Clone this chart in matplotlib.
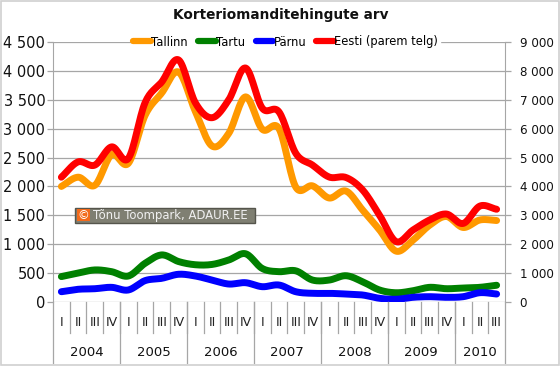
import numpy as np
import matplotlib
matplotlib.use("Agg")
import matplotlib.pyplot as plt
from matplotlib.patches import Rectangle
from matplotlib.ticker import FuncFormatter, MultipleLocator
import matplotlib.transforms as mtransforms

plt.rcParams['font.family'] = ['DejaVu Sans']

# ---- data ----
title = "Korteriomanditehingute arv"
years = ['2004', '2005', '2006', '2007', '2008', '2009', '2010']
quarters_per_year = [4, 4, 4, 4, 4, 4, 3]
quarter_names = ['I', 'II', 'III', 'IV']

tallinn = [2000, 2160, 2020, 2550, 2400, 3230, 3620, 3980, 3300, 2700, 2920, 3550,
           2990, 3000, 1990, 2010, 1800, 1920, 1590, 1250, 880, 1070, 1330, 1480,
           1290, 1420, 1410]
tartu = [440, 500, 555, 525, 450, 670, 815, 700, 645, 650, 727, 835,
         580, 525, 540, 380, 380, 455, 350, 208, 160, 195, 254, 230,
         242, 254, 290]
parnu = [178, 220, 230, 254, 208, 370, 410, 480, 450, 380, 311, 334,
         265, 294, 178, 150, 150, 138, 121, 64, 47, 81, 92, 81,
         92, 161, 138]
eesti = [4320, 4850, 4740, 5370, 4970, 6900, 7620, 8380, 6900, 6380, 7000, 8100,
         6710, 6580, 5150, 4740, 4325, 4310, 3875, 3010, 2090, 2490, 2840, 3045,
         2720, 3320, 3210]

series_names = ['Tallinn', 'Tartu', 'Pärnu', 'Eesti (parem telg)']
colors = ['#FF9900', '#008000', '#0000FF', '#FF0000']


def smooth(x, y, n=16):
    x = np.asarray(x, float)
    y = np.asarray(y, float)
    px = np.concatenate([[2 * x[0] - x[1]], x, [2 * x[-1] - x[-2]]])
    py = np.concatenate([[2 * y[0] - y[1]], y, [2 * y[-1] - y[-2]]])
    xs, ys = [], []
    t = np.linspace(0, 1, n, endpoint=False)
    for i in range(1, len(px) - 2):
        for P, out in ((px, xs), (py, ys)):
            p0, p1, p2, p3 = P[i - 1], P[i], P[i + 1], P[i + 2]
            out.extend(0.5 * ((2 * p1) + (-p0 + p2) * t +
                              (2 * p0 - 5 * p1 + 4 * p2 - p3) * t ** 2 +
                              (-p0 + 3 * p1 - 3 * p2 + p3) * t ** 3))
    xs.append(x[-1]); ys.append(y[-1])
    return np.array(xs), np.array(ys)


n = len(tallinn)
xpos = np.arange(n) + 0.5

W, H = 560, 366
fig = plt.figure(figsize=(5.6, 3.66), dpi=100)
fig.patch.set_facecolor('white')
fig.add_artist(Rectangle((0.001, 0.002), 0.998, 0.996, transform=fig.transFigure,
                         fill=False, edgecolor='#D0D0D0', lw=1.2))

ax = fig.add_axes([53 / W, 1 - 302 / H, 452 / W, 260 / H])
ax2 = ax.twinx()

grid_c = '#A6A6A6'
ax.set_xlim(0, n)
ax.set_ylim(0, 4500)
ax2.set_ylim(0, 9000)
ax.yaxis.set_major_locator(MultipleLocator(500))
ax2.yaxis.set_major_locator(MultipleLocator(1000))
fmt = FuncFormatter(lambda v, p: f"{int(v):,}".replace(',', ' '))
ax.yaxis.set_major_formatter(fmt)
ax2.yaxis.set_major_formatter(fmt)
ax.grid(axis='y', color=grid_c, lw=0.9)
ax.set_axisbelow(True)
ax.set_xticks([])
ax2.set_xticks([])

for a in (ax, ax2):
    for s in ('top', 'bottom'):
        a.spines[s].set_visible(False)
    a.spines['left'].set_color(grid_c)
    a.spines['right'].set_color(grid_c)
    a.patch.set_visible(False)
ax.spines['right'].set_visible(False)
ax2.spines['left'].set_visible(False)
ax.tick_params(axis='y', length=4, width=0.9, color=grid_c, pad=1.5,
               labelsize=10.5, labelcolor='#111111')
ax2.tick_params(axis='y', length=4, width=0.9, color=grid_c, pad=6.5,
                labelsize=8.6, labelcolor='#111111')

lines = []
for vals, c, name in zip([tallinn, tartu, parnu], colors[:3], series_names[:3]):
    sx, sy = smooth(xpos, vals)
    l, = ax.plot(sx, sy, color=c, lw=5, solid_capstyle='round',
                 solid_joinstyle='round', label=name)
    lines.append(l)
sx, sy = smooth(xpos, eesti)
l, = ax2.plot(sx, sy, color=colors[3], lw=5, solid_capstyle='round',
              solid_joinstyle='round', label=series_names[3])
lines.append(l)

# category axis
trans = mtransforms.blended_transform_factory(ax.transData, ax.transAxes)
qlabels = []
for q in quarters_per_year:
    qlabels.extend(quarter_names[:q])
for i, ql in enumerate(qlabels):
    ax.text(i + 0.5, -0.077, ql, transform=trans, ha='center', va='center',
            fontsize=9, color='#222222')
for xb in range(1, n):
    ax.plot([xb, xb], [0, -0.119], transform=trans, color=grid_c, lw=0.9,
            clip_on=False)
start = 0
for yname, q in zip(years, quarters_per_year):
    ax.text(start + q / 2, -0.196, yname, transform=trans, ha='center',
            va='center', fontsize=9.5, color='#111111')
    start += q
    ax.plot([start, start], [0, -0.235], transform=trans, color=grid_c,
            lw=0.9, clip_on=False)
ax.plot([0, 0], [0, -0.235], transform=trans, color=grid_c, lw=0.9, clip_on=False)

# title
fig.text(281 / W, 1 - 15 / H, title, ha='center', va='center',
         fontsize=9.8, fontweight='bold', color='#111111')

# legend
leg = ax2.legend(handles=lines, loc='center', bbox_to_anchor=(0.515, 1.0),
                 ncol=4, frameon=True, fontsize=8.3, handlelength=1.5,
                 handletextpad=0.05, columnspacing=0.9, borderpad=0.15,
                 borderaxespad=0)
leg.get_frame().set_facecolor('white')
leg.get_frame().set_edgecolor('white')
leg.get_frame().set_alpha(1)
for h in leg.get_lines():
    h.set_linewidth(4.5)

# watermark
fig.add_artist(Rectangle((75 / W, 1 - 223 / H), 180 / W, 15 / H,
                         transform=fig.transFigure, facecolor='#7F7F72',
                         edgecolor='#55554C', lw=1, zorder=5))
fig.add_artist(Rectangle((77 / W, 1 - 221.5 / H), 13 / W, 12 / H,
                         transform=fig.transFigure, facecolor='#F26A1B',
                         edgecolor='none', zorder=6))
fig.text(83.5 / W, 1 - 215.5 / H, "\u00a9", ha='center', va='center', fontsize=8.5,
         color='white', zorder=7)
fig.text(93 / W, 1 - 215.5 / H, "T\u00f5nu Toompark, ADAUR.EE", ha='left',
         va='center', fontsize=8.4, color='#F0F0F0', zorder=7)

fig.savefig('out.png', dpi=100, facecolor='white')
